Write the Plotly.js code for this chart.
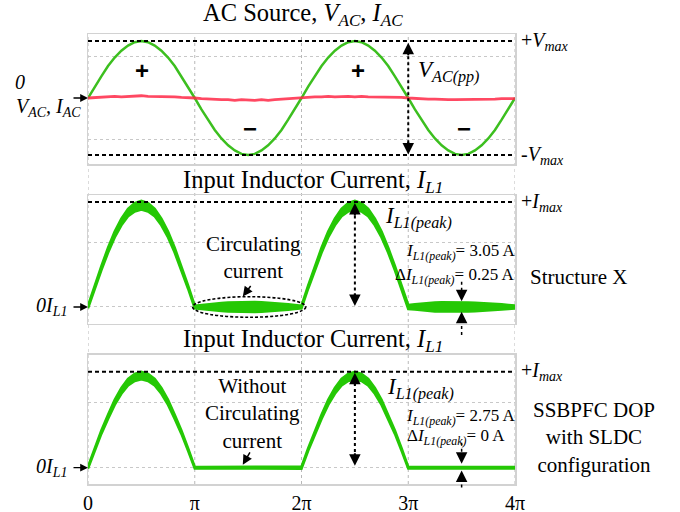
<!DOCTYPE html>
<html><head><meta charset="utf-8">
<script src="https://cdn.plot.ly/plotly-3.0.1.min.js"></script>
<style>html,body{margin:0;padding:0;background:#fff}#chart{width:680px;height:512px}</style>
</head><body><div id="chart"></div>
<script>
// ---- data (phase in units of pi) ----
const tickPositions = [0, 1, 2, 3, 4];
const tickLabels = ["0", "π", "2π", "3π", "4π"];

const phase = [0,0.0625,0.125,0.1875,0.25,0.3125,0.375,0.4375,0.5,0.5625,0.625,0.6875,0.75,0.8125,0.875,0.9375,
  1,1.0625,1.125,1.1875,1.25,1.3125,1.375,1.4375,1.5,1.5625,1.625,1.6875,1.75,1.8125,1.875,1.9375,
  2,2.0625,2.125,2.1875,2.25,2.3125,2.375,2.4375,2.5,2.5625,2.625,2.6875,2.75,2.8125,2.875,2.9375,
  3,3.0625,3.125,3.1875,3.25,3.3125,3.375,3.4375,3.5,3.5625,3.625,3.6875,3.75,3.8125,3.875,3.9375,4];

// AC source voltage (normalised to Vmax)
const vAC = [0,0.2,0.38,0.56,0.71,0.83,0.92,0.98,1,0.98,0.92,0.83,0.71,0.56,0.38,0.2,
  0,-0.2,-0.38,-0.56,-0.71,-0.83,-0.92,-0.98,-1,-0.98,-0.92,-0.83,-0.71,-0.56,-0.38,-0.2,
  0,0.2,0.38,0.56,0.71,0.83,0.92,0.98,1,0.98,0.92,0.83,0.71,0.56,0.38,0.2,
  0,-0.2,-0.38,-0.56,-0.71,-0.83,-0.92,-0.98,-1,-0.98,-0.92,-0.83,-0.71,-0.56,-0.38,-0.2,0];

// AC source current (small, noisy)
const iAC = [0,0.01,0.02,0.02,0.03,0.02,0.03,0.03,0.04,0.03,0.03,0.02,0.03,0.02,0.01,0.01,
  0,-0.01,-0.02,-0.02,-0.03,-0.03,-0.04,-0.03,-0.04,-0.04,-0.03,-0.04,-0.03,-0.02,-0.02,-0.01,
  0,0.01,0.02,0.02,0.03,0.02,0.03,0.03,0.02,0.03,0.02,0.02,0.02,0.01,0.01,0.01,
  0,-0.01,-0.01,-0.02,-0.02,-0.03,-0.03,-0.03,-0.03,-0.03,-0.03,-0.02,-0.02,-0.02,-0.01,-0.01,-0.01];

// Structure X inductor current: band centre and half-width (normalised to Imax)
const iL1xCenter = [0,0.19,0.37,0.54,0.69,0.81,0.90,0.95,0.97,0.95,0.90,0.81,0.69,0.54,0.37,0.19,
  0,0,0,0,0,0,0,0,0,0,0,0,0,0,0,0,
  0,0.19,0.37,0.54,0.69,0.81,0.90,0.95,0.97,0.95,0.90,0.81,0.69,0.54,0.37,0.19,
  0,0,0,0,0,0,0,0,0,0,0,0,0,0,0,0,0];
const iL1xSpread = [0.012,0.016,0.02,0.024,0.028,0.032,0.036,0.04,0.042,0.04,0.036,0.032,0.028,0.024,0.02,0.016,
  0.012,0.02,0.027,0.033,0.038,0.042,0.045,0.047,0.048,0.047,0.045,0.042,0.038,0.033,0.027,0.02,
  0.012,0.016,0.02,0.024,0.028,0.032,0.036,0.04,0.042,0.04,0.036,0.032,0.028,0.024,0.02,0.016,
  0.02,0.025,0.033,0.038,0.042,0.044,0.045,0.045,0.044,0.042,0.04,0.038,0.035,0.03,0.025,0.02,0.015];

// SSBPFC DOP (SLDC) inductor current
const iL1dCenter = [0,0.19,0.37,0.53,0.68,0.80,0.89,0.94,0.96,0.94,0.89,0.80,0.68,0.53,0.37,0.19,
  0,0,0,0,0,0,0,0,0,0,0,0,0,0,0,0,
  0,0.19,0.37,0.53,0.68,0.80,0.89,0.94,0.96,0.94,0.89,0.80,0.68,0.53,0.37,0.19,
  0,0,0,0,0,0,0,0,0,0,0,0,0,0,0,0,0];
const iL1dSpread = [0.01,0.014,0.018,0.022,0.026,0.03,0.034,0.037,0.038,0.037,0.034,0.03,0.026,0.022,0.018,0.014,
  0.008,0.008,0.008,0.008,0.008,0.008,0.008,0.008,0.008,0.008,0.008,0.008,0.008,0.008,0.008,0.008,
  0.01,0.014,0.018,0.022,0.026,0.03,0.034,0.037,0.038,0.037,0.034,0.03,0.026,0.022,0.018,0.014,
  0.008,0.008,0.008,0.008,0.008,0.008,0.008,0.008,0.008,0.008,0.008,0.008,0.008,0.008,0.008,0.008,0.008];

// ---- styling ----
const SERIF = "Liberation Serif, Times New Roman, serif";
const GREEN1 = "#3cbf1f";
const GREEN2 = "#25c805";
const RED = "rgba(255,40,70,0.85)";

const lo = (c, s) => c.map((v, i) => v - s[i]);
const hi = (c, s) => c.map((v, i) => v + s[i]);

const traces = [
  {x: phase, y: vAC, xaxis: 'x', yaxis: 'y', mode: 'lines', line: {color: GREEN1, width: 2.5}, hoverinfo: 'skip'},
  {x: phase, y: iAC, xaxis: 'x', yaxis: 'y', mode: 'lines', line: {color: RED, width: 2.8}, hoverinfo: 'skip'},
  {x: phase, y: lo(iL1xCenter, iL1xSpread), xaxis: 'x2', yaxis: 'y2', mode: 'lines', line: {color: GREEN2, width: 2.5}, hoverinfo: 'skip'},
  {x: phase, y: hi(iL1xCenter, iL1xSpread), xaxis: 'x2', yaxis: 'y2', mode: 'lines', fill: 'tonexty', fillcolor: GREEN2, line: {color: GREEN2, width: 2.5}, hoverinfo: 'skip'},
  {x: phase, y: lo(iL1dCenter, iL1dSpread), xaxis: 'x3', yaxis: 'y3', mode: 'lines', line: {color: GREEN2, width: 2.5}, hoverinfo: 'skip'},
  {x: phase, y: hi(iL1dCenter, iL1dSpread), xaxis: 'x3', yaxis: 'y3', mode: 'lines', fill: 'tonexty', fillcolor: GREEN2, line: {color: GREEN2, width: 2.5}, hoverinfo: 'skip'}
];

const BOX = '#d2d2d2';
function xa(anchor, labels) {
  return {anchor, domain: [0, 1], range: [0, 4], showline: true, mirror: true, linecolor: BOX, linewidth: 1.5,
    showgrid: false, zeroline: false, ticks: '', tickvals: tickPositions, ticktext: tickLabels,
    showticklabels: labels, tickfont: {family: SERIF, size: 20, color: '#000'}, fixedrange: true};
}
function ya(anchor, domain, range, grid) {
  return {anchor, domain, range, showline: true, mirror: true, linecolor: BOX, linewidth: 1.5,
    showgrid: true, gridcolor: '#c8c8c8', griddash: 'dot', gridwidth: 1, tickvals: grid,
    showticklabels: false, zeroline: false, ticks: '', fixedrange: true};
}

const shapes = [];
// vertical dotted guides through all panels
tickPositions.forEach(p => shapes.push({type: 'line', xref: 'x', yref: 'paper', x0: p, x1: p, y0: 0, y1: 1,
  line: {color: '#b8b8b8', width: 1, dash: 'dot'}, layer: 'below'}));
// max dashed lines
const DASH = {color: '#000', width: 2, dash: '4px,3px'};
shapes.push({type: 'line', xref: 'x', yref: 'y', x0: 0, x1: 4, y0: 1, y1: 1, line: DASH});
shapes.push({type: 'line', xref: 'x', yref: 'y', x0: 0, x1: 4, y0: -1, y1: -1, line: DASH});
shapes.push({type: 'line', xref: 'x2', yref: 'y2', x0: 0, x1: 4, y0: 1, y1: 1, line: DASH});
shapes.push({type: 'line', xref: 'x3', yref: 'y3', x0: 0, x1: 4, y0: 1, y1: 1, line: DASH});
// dotted arrow stems
const DOT = {color: '#000', width: 2, dash: 'dot'};
shapes.push({type: 'line', xref: 'x', yref: 'y', x0: 3, x1: 3, y0: -0.9, y1: 0.9, line: DOT});
shapes.push({type: 'line', xref: 'x2', yref: 'y2', x0: 2.5, x1: 2.5, y0: 0.1, y1: 0.92, line: DOT});
shapes.push({type: 'line', xref: 'x3', yref: 'y3', x0: 2.5, x1: 2.5, y0: 0.1, y1: 0.92, line: DOT});
shapes.push({type: 'line', xref: 'x2', yref: 'y2', x0: 3.5, x1: 3.5, y0: 0.24, y1: 0.12, line: {color: '#000', width: 1.5, dash: 'dot'}});
shapes.push({type: 'line', xref: 'paper', yref: 'paper', x0: 0.875, x1: 0.875, y0: 0.331, y1: 0.37, line: {color: '#000', width: 1.5, dash: 'dot'}});
shapes.push({type: 'line', xref: 'x3', yref: 'y3', x0: 3.5, x1: 3.5, y0: 0.26, y1: 0.12, line: {color: '#000', width: 1.5, dash: 'dot'}});
shapes.push({type: 'line', xref: 'paper', yref: 'paper', x0: 0.875, x1: 0.875, y0: -0.008, y1: 0.018, line: {color: '#000', width: 1.5, dash: 'dot'}});
// circulating current ellipse
shapes.push({type: 'circle', xref: 'x2', yref: 'y2', x0: 0.98, x1: 2.04, y0: -0.098, y1: 0.098,
  line: {color: '#000', width: 1.6, dash: '3px,2px'}});

const ann = [];
function txt(x, y, xref, yref, text, size, extra) {
  ann.push(Object.assign({x, y, xref, yref, text, showarrow: false, xanchor: 'center', yanchor: 'middle',
    font: {family: SERIF, size, color: '#000'}}, extra || {}));
}
function head(x, y, xref, yref, ax, ay, w, s) {
  ann.push({x, y, xref, yref, ax, ay, text: '', showarrow: true, arrowhead: 2,
    arrowsize: s || 1.15, arrowwidth: w || 2, arrowcolor: '#000'});
}
// titles
txt(0.5035, 1.044, 'paper', 'paper', 'AC Source, <i>V<sub>AC</sub></i>, <i>I<sub>AC</sub></i>', 24.5);
txt(0.527, 0.673, 'paper', 'paper', 'Input Inductor Current, <i>I<sub>L1</sub></i>', 24.5);
txt(0.527, 0.318, 'paper', 'paper', 'Input Inductor Current, <i>I<sub>L1</sub></i>', 24.5);
// left labels + arrows
txt(-0.159, 0.28, 'paper', 'y', '<i>0</i>', 20);
txt(-0.012, -0.17, 'paper', 'y', '<i>V<sub>AC</sub>, I<sub>AC</sub></i>', 20, {xanchor: 'right'});
head(0, 0, 'x', 'y', -16, 0, 1.3, 1.2);
txt(-0.045, 0, 'paper', 'y2', '<i>0I<sub>L1</sub></i>', 20, {xanchor: 'right'});
head(0, 0, 'x2', 'y2', -16, 0, 1.3, 1.2);
txt(-0.045, 0, 'paper', 'y3', '<i>0I<sub>L1</sub></i>', 20, {xanchor: 'right'});
head(0, 0, 'x3', 'y3', -16, 0, 1.3, 1.2);
// right labels
txt(1.01, 1, 'paper', 'y', '+<i>V<sub>max</sub></i>', 20, {xanchor: 'left'});
txt(1.01, -1, 'paper', 'y', '-<i>V<sub>max</sub></i>', 20, {xanchor: 'left'});
txt(1.01, 1, 'paper', 'y2', '+<i>I<sub>max</sub></i>', 20, {xanchor: 'left'});
txt(1.01, 1, 'paper', 'y3', '+<i>I<sub>max</sub></i>', 20, {xanchor: 'left'});
txt(1.03, 0.46, 'paper', 'paper', 'Structure X', 21, {xanchor: 'left'});
txt(1.185, 0.104, 'paper', 'paper', 'SSBPFC DOP<br>with SLDC<br>configuration', 21);
// panel 1 signs and Vpp
['+', '−', '+', '−'].forEach((s, i) => txt([0.506, 1.52, 2.53, 3.52][i], [0.49, -0.54, 0.49, -0.54][i], 'x', 'y',
  '<b>' + s + '</b>', 24, {font: {family: 'Liberation Sans, Arial, sans-serif', size: 24, color: '#000'}}));
head(3, 0.97, 'x', 'y', 0, 14);
head(3, -0.99, 'x', 'y', 0, -14);
txt(3.07, 0.46, 'x', 'y', '<i>V<sub>AC(pp)</sub></i>', 23, {xanchor: 'left'});
// panel 2 annotations
head(2.5, 0.99, 'x2', 'y2', 0, 14);
head(2.5, 0.01, 'x2', 'y2', 0, -14);
txt(2.76, 0.85, 'x2', 'y2', '<i>I<sub>L1(peak)</sub></i>', 23, {xanchor: 'left'});
txt(2.96, 0.52, 'x2', 'y2', '<i>I<sub>L1(peak)</sub></i>= 3.05 A', 17, {xanchor: 'left'});
txt(2.857, 0.30, 'x2', 'y2', 'Δ<i>I<sub>L1(peak)</sub></i>= 0.25 A', 17, {xanchor: 'left'});
head(3.5, 0.055, 'x2', 'y2', 0, -12);
head(3.5, -0.045, 'x2', 'y2', 0, 12);
txt(1.55, 0.47, 'x2', 'y2', 'Circulating<br>current', 21);
head(1.45, 0.1, 'x2', 'y2', 9, -12, 1.5, 1.3);
// panel 3 annotations
head(2.5, 0.99, 'x3', 'y3', 0, 14);
head(2.5, 0.02, 'x3', 'y3', 0, -14);
txt(2.78, 0.82, 'x3', 'y3', '<i>I<sub>L1(peak)</sub></i>', 23, {xanchor: 'left'});
txt(2.96, 0.53, 'x3', 'y3', '<i>I<sub>L1(peak)</sub></i>= 2.75 A', 17, {xanchor: 'left'});
txt(2.97, 0.32, 'x3', 'y3', 'Δ<i>I<sub>L1(peak)</sub></i>= 0 A', 17, {xanchor: 'left'});
head(3.5, 0.04, 'x3', 'y3', 0, -12);
head(3.5, -0.03, 'x3', 'y3', 0, 12);
txt(1.545, 0.56, 'x3', 'y3', 'Without<br>Circulating<br>current', 21);
head(1.45, 0.03, 'x3', 'y3', 8, -14, 1.5, 1.3);

const layout = {
  width: 680, height: 512, margin: {l: 88, r: 165, t: 34, b: 28},
  paper_bgcolor: '#fff', plot_bgcolor: 'rgba(0,0,0,0)', showlegend: false,
  font: {family: SERIF, color: '#000'},
  xaxis: xa('y', false), xaxis2: xa('y2', false), xaxis3: xa('y3', true),
  yaxis: ya('x', [0.7111, 1], [-1.158, 1.123], [-0.72, 0.72]),
  yaxis2: ya('x2', [0.3556, 0.6422], [-0.162, 1.067], [0, 0.61]),
  yaxis3: ya('x3', [0, 0.2867], [-0.17, 1.174], [0, 0.674]),
  shapes, annotations: ann
};
Plotly.newPlot('chart', traces, layout, {displayModeBar: false, staticPlot: true});
</script></body></html>
